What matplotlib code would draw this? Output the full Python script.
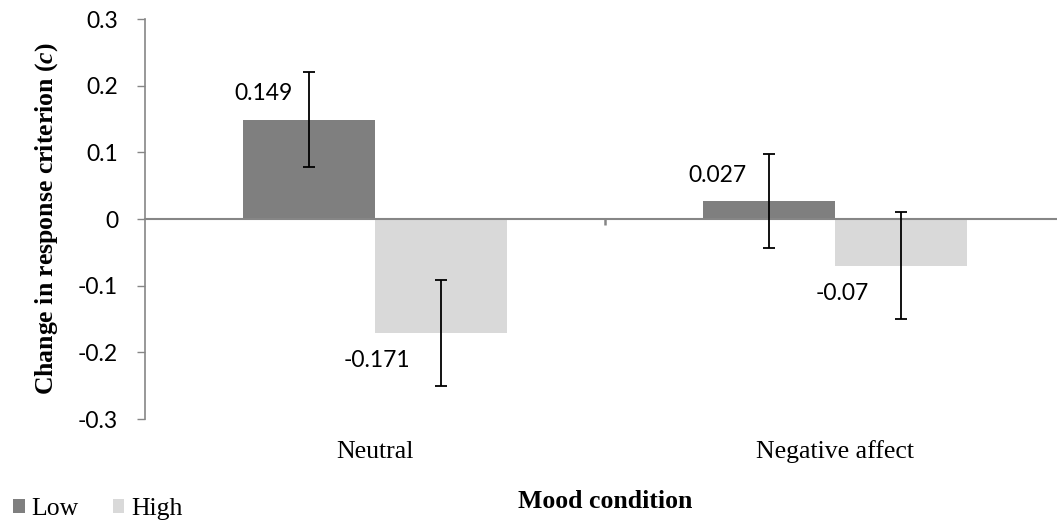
import matplotlib
matplotlib.use("Agg")
import matplotlib.pyplot as plt
from matplotlib.patches import Patch
from matplotlib.transforms import blended_transform_factory

# ---- data ----
categories = ["Neutral", "Negative affect"]
series_names = ["Low", "High"]
low_values = [0.149, 0.027]
high_values = [-0.171, -0.07]
low_errors = [0.071, 0.07]
high_errors = [0.08, 0.08]
yticks = [-0.3, -0.2, -0.1, 0, 0.1, 0.2, 0.3]
ytick_labels = ["-0.3", "-0.2", "-0.1", "0", "0.1", "0.2", "0.3"]
value_labels_low = ["0.149", "0.027"]
value_labels_high = ["-0.171", "-0.07"]

# ---- style ----
plt.rcParams["mathtext.fontset"] = "custom"
plt.rcParams["mathtext.rm"] = "Liberation Serif:bold"
plt.rcParams["mathtext.bf"] = "Liberation Serif:bold"
plt.rcParams["mathtext.bfit"] = "Liberation Serif:italic:bold"
plt.rcParams["mathtext.it"] = "Liberation Serif:italic:bold"

LOW_C = "#7f7f7f"
HIGH_C = "#d9d9d9"
AX_C = "#868686"
SANS = "Lato"
SERIF = "Liberation Serif"

W, H = 1057, 523
fig = plt.figure(figsize=(W / 100, H / 100), dpi=100)
ax = fig.add_axes([145 / W, (H - 419) / H, 920 / W, 400 / H])

bw = 0.287
x = list(range(len(categories)))
xl = [i - bw / 2 for i in x]
xh = [i + bw / 2 for i in x]
ax.bar(xl, low_values, width=bw, color=LOW_C, zorder=2)
ax.bar(xh, high_values, width=bw, color=HIGH_C, zorder=2)
ax.errorbar(xl, low_values, yerr=low_errors, fmt="none", ecolor="black",
            elinewidth=1.3, capsize=4.3, capthick=1.3, zorder=4)
ax.errorbar(xh, high_values, yerr=high_errors, fmt="none", ecolor="black",
            elinewidth=1.3, capsize=4.3, capthick=1.3, zorder=4)

ax.set_xlim(-0.5, 1.5)
ax.set_ylim(-0.3, 0.3)
ax.set_yticks(yticks)
ax.set_yticklabels(ytick_labels, fontfamily=SANS, fontsize=16.5)
ax.tick_params(axis="y", direction="out", length=5.8, width=1, color=AX_C, pad=13.5)

for s in ["top", "right"]:
    ax.spines[s].set_visible(False)
ax.spines["left"].set_color(AX_C)
ax.spines["left"].set_linewidth(1.2)
ax.spines["bottom"].set_position(("data", 0))
ax.spines["bottom"].set_color(AX_C)
ax.spines["bottom"].set_linewidth(1.5)
ax.spines["bottom"].set_zorder(3)
ax.set_xticks([0.5])
ax.set_xticklabels([""])
ax.tick_params(axis="x", direction="out", length=4.5, width=1.8, color=AX_C)

# category labels
tr = blended_transform_factory(ax.transData, ax.transAxes)
for i, c in enumerate(categories):
    ax.text(i, -0.0825, c, transform=tr, ha="center", va="center",
            fontfamily=SERIF, fontsize=18.5)

# value labels (offsets in points, layout only)
low_off = [(-33, 19), (-37, 18)]
high_off = [(-46, -20), (-42, -20)]
for i in x:
    ax.annotate(value_labels_low[i], (xl[i], low_values[i]), xytext=low_off[i],
                textcoords="offset points", ha="center", va="center",
                fontfamily=SANS, fontsize=16.5)
    ax.annotate(value_labels_high[i], (xh[i], high_values[i]), xytext=high_off[i],
                textcoords="offset points", ha="center", va="center",
                fontfamily=SANS, fontsize=16.5)

# axis titles
fig.text(47 / W, (H - 218.5) / H, r"Change in response criterion ($\mathbfit{c}$)",
         rotation=90, ha="center", va="center", fontfamily=SERIF,
         fontweight="bold", fontsize=18.5)
fig.text(605 / W, (H - 502) / H, "Mood condition", ha="center", va="center",
         fontfamily=SERIF, fontweight="bold", fontsize=18.5)

# legend
handles = [Patch(facecolor=LOW_C, edgecolor="none"),
           Patch(facecolor=HIGH_C, edgecolor="none")]
fig.legend(handles, series_names, loc="center left",
           bbox_to_anchor=(13 / W, (H - 509) / H), ncol=2, frameon=False,
           prop={"family": SERIF, "size": 18.5}, handlelength=0.45,
           handleheight=0.45, handletextpad=0.25, columnspacing=1.35,
           borderpad=0, borderaxespad=0)

fig.savefig("out.png", dpi=100)
